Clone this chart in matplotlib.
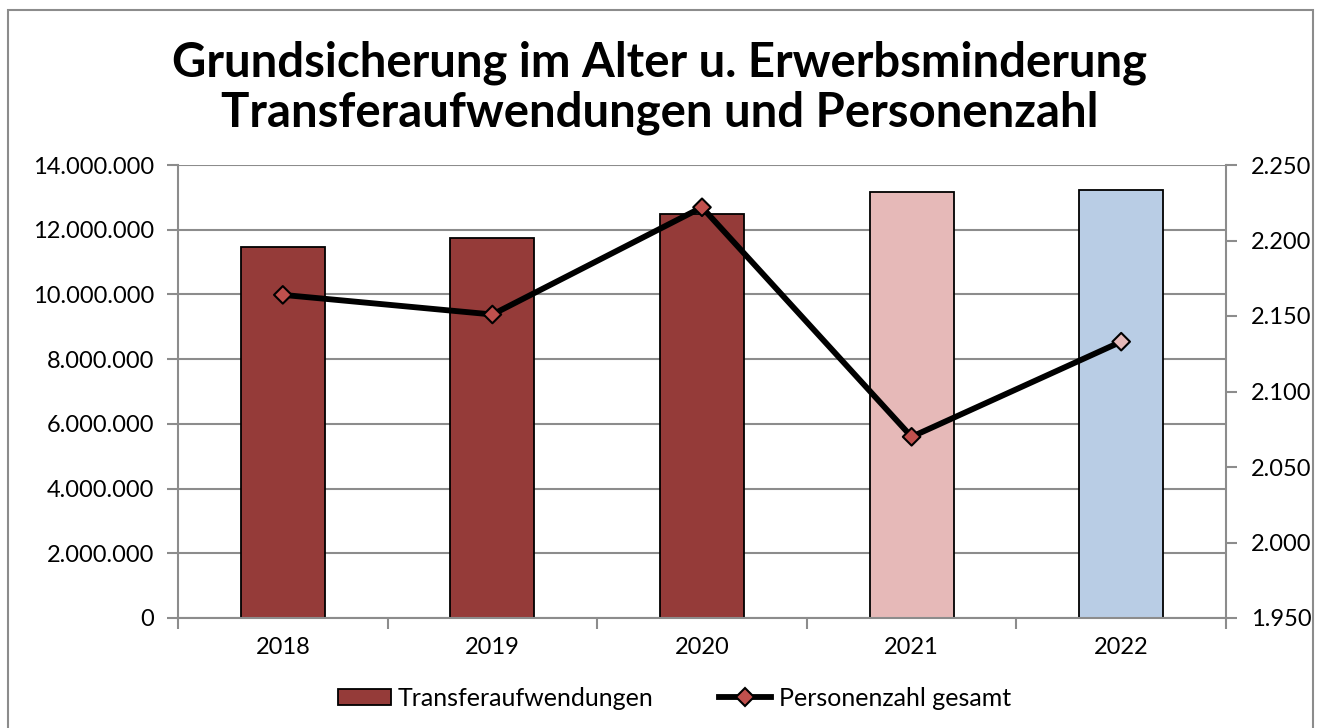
import matplotlib.pyplot as plt
from matplotlib.patches import Rectangle
from matplotlib.lines import Line2D
from matplotlib.ticker import FuncFormatter

years = ["2018", "2019", "2020", "2021", "2022"]
transfer = [11470000, 11740000, 12490000, 13170000, 13230000]
personen = [2164, 2151, 2222, 2070, 2133]

bar_colors = ["#953b39", "#953b39", "#953b39", "#e6b9b8", "#b9cde5"]
marker_colors = ["#c0504d", "#c0504d", "#c0504d", "#c0504d", "#e6b9b8"]

plt.rcParams['font.family'] = ['Lato', 'DejaVu Sans']
grey = "#8c8c8c"

fig = plt.figure(figsize=(13.19, 7.28), dpi=100)
ax = fig.add_axes([178 / 1319, 1 - 618 / 728, (1226 - 178) / 1319, (618 - 165) / 728])
ax2 = ax.twinx()

# outer chart border
fig.patches.append(Rectangle((8 / 1319, -0.05), (1313 - 8) / 1319, 1.05 - 10 / 728,
                             transform=fig.transFigure, fill=False,
                             edgecolor=grey, linewidth=1.5))

x = range(len(years))
ax.bar(x, transfer, width=0.4, color=bar_colors, edgecolor="black",
       linewidth=1.3, zorder=2)
ax.set_ylim(0, 14000000)
ax.set_xlim(-0.5, len(years) - 0.5)
ax.set_yticks(range(0, 14000001, 2000000))
ax.yaxis.set_major_formatter(FuncFormatter(lambda v, p: f"{int(v):,}".replace(",", ".")))
ax.grid(axis="y", color=grey, linewidth=1.5, zorder=0)
ax.set_axisbelow(True)
ax.set_xticks(list(x))
ax.set_xticklabels(years)
ax.set_xticks([i - 0.5 for i in range(len(years) + 1)], minor=True)
ax.tick_params(axis="x", which="major", length=0, pad=14, labelsize=17)
ax.tick_params(axis="x", which="minor", length=8, width=1.5, color=grey, direction="out")
ax.tick_params(axis="y", length=8, width=1.5, color=grey, labelsize=17, pad=9)

ax2.plot(list(x), personen, color="black", linewidth=4.2, zorder=3)
ax2.scatter(list(x), personen, marker="D", s=80, c=marker_colors,
            edgecolors="black", linewidths=1.5, zorder=4)
ax2.set_ylim(1950, 2250)
ax2.set_yticks(range(1950, 2251, 50))
ax2.yaxis.set_major_formatter(FuncFormatter(lambda v, p: f"{int(v):,}".replace(",", ".")))
ax2.tick_params(axis="y", length=8, width=1.5, color=grey, labelsize=17, pad=10)

for a in (ax, ax2):
    for s in a.spines.values():
        s.set_visible(False)
    a.spines["left"].set_visible(a is ax)
    a.spines["right"].set_visible(a is ax2)
    a.spines["bottom"].set_visible(a is ax)
ax.spines["left"].set_color(grey)
ax.spines["left"].set_linewidth(1.5)
ax.spines["bottom"].set_color(grey)
ax.spines["bottom"].set_linewidth(1.5)
ax2.spines["right"].set_color(grey)
ax2.spines["right"].set_linewidth(1.5)

fig.text(0.5, 1 - 88 / 728, "Grundsicherung im Alter u. Erwerbsminderung\nTransferaufwendungen und Personenzahl",
         ha="center", va="center", fontsize=34, fontweight="bold", linespacing=1.15)

handles = [Rectangle((0, 0), 1, 1, facecolor="#953b39", edgecolor="black", linewidth=1.3),
           Line2D([], [], color="black", linewidth=4.2, marker="D", markersize=9,
                  markerfacecolor="#c0504d", markeredgecolor="black", markeredgewidth=1.5)]
fig.legend(handles, ["Transferaufwendungen", "Personenzahl gesamt"], loc="center",
           bbox_to_anchor=(0.5 + 15 / 1319, 1 - 698 / 728), ncol=2, frameon=False, fontsize=18,
           handlelength=2.1, handleheight=0.6, handletextpad=0.3, columnspacing=2.6)

fig.savefig("out.png", dpi=100)
